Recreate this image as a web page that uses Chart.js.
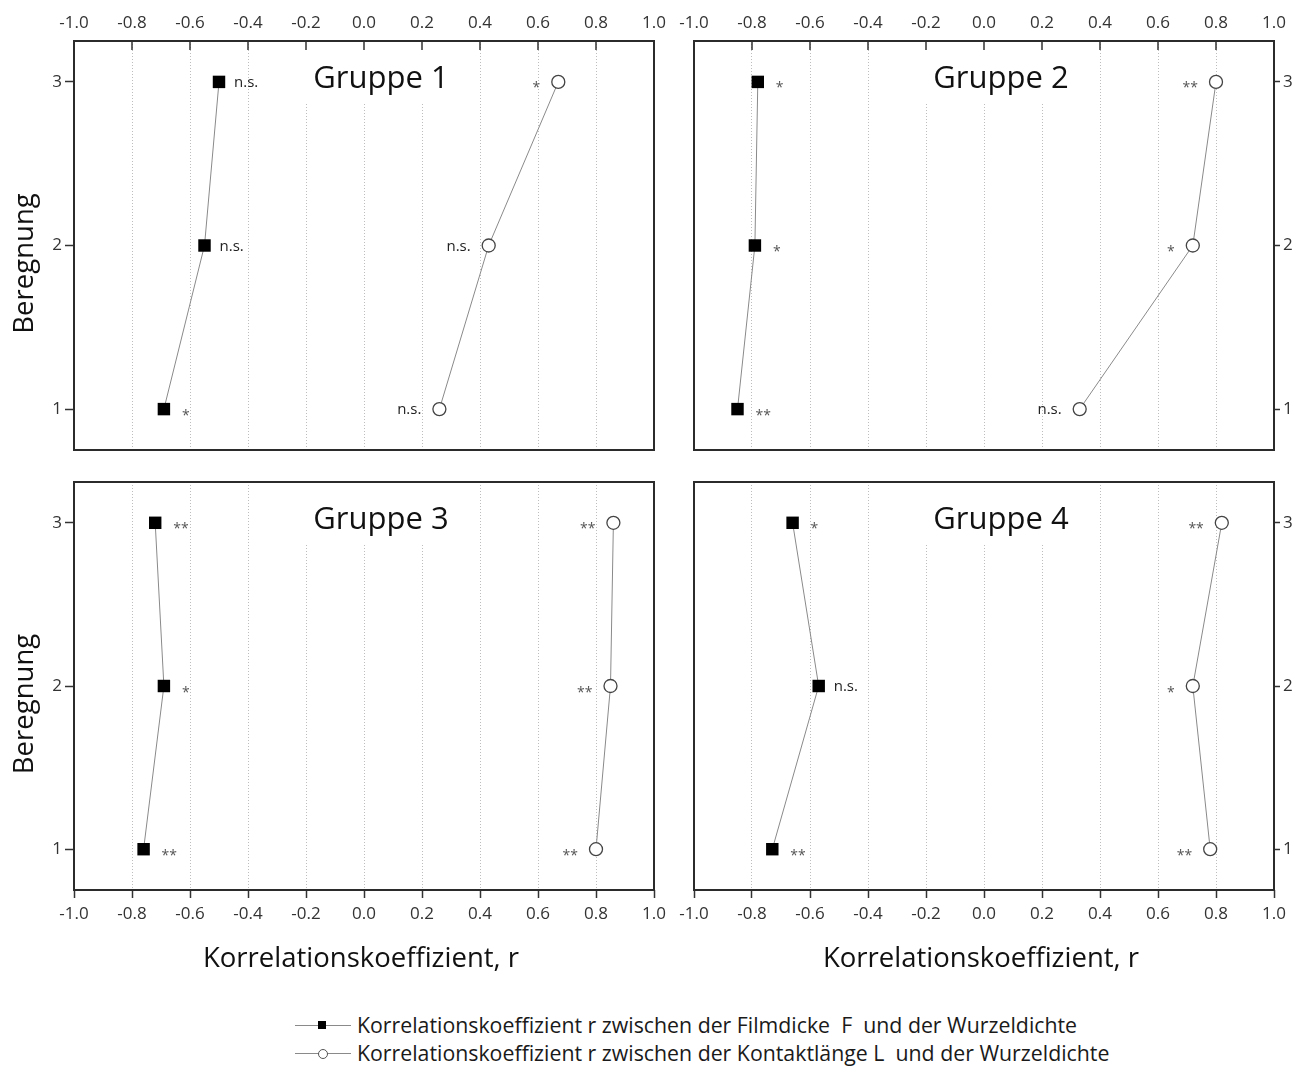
<!DOCTYPE html>
<html>
<head>
<meta charset="utf-8">
<script src="https://cdn.jsdelivr.net/npm/chart.js@4.4.1/dist/chart.umd.min.js"></script>
<style>
  html, body { margin: 0; padding: 0; background: #fff; }
  body { width: 1306px; height: 1068px; position: relative; overflow: hidden; font-family: "Open Sans", "DejaVu Sans", sans-serif; }
  .panel { position: absolute; }
  .panel canvas { display: block; }
  #legende { position: absolute; left: 295px; top: 1011px; font-size: 21.3px; color: #1a1a1a; }
  .zeile { position: relative; height: 28px; line-height: 28px; padding-left: 62px; white-space: pre; }
  .zeile .linie { position: absolute; left: 0; top: 14px; width: 56px; border-top: 1px solid #8a8a8a; }
  .zeile .quadrat { position: absolute; left: 23px; top: 10px; width: 8px; height: 8px; background: #000; }
  .zeile .kreis { position: absolute; left: 23px; top: 10px; width: 8px; height: 8px; border: 1px solid #555; background: #fff; border-radius: 50%; }
</style>
</head>
<body>
<div class="panel" style="left:0px;top:0px;"><canvas id="c1" width="680" height="464"></canvas></div>
<div class="panel" style="left:668px;top:0px;"><canvas id="c2" width="638" height="464"></canvas></div>
<div class="panel" style="left:0px;top:468px;"><canvas id="c3" width="680" height="512"></canvas></div>
<div class="panel" style="left:668px;top:468px;"><canvas id="c4" width="638" height="512"></canvas></div>
<div id="legende"></div>

<script>
// Beregnungsstufen (y) und Achsenteilung (x)
const beregnung = [1, 2, 3];
const xTickValues = [-1.0, -0.8, -0.6, -0.4, -0.2, 0.0, 0.2, 0.4, 0.6, 0.8, 1.0];
const yTickValues = [1, 2, 3];
const gruppenNamen = ['Gruppe 1', 'Gruppe 2', 'Gruppe 3', 'Gruppe 4'];

// r zwischen Filmdicke F und Wurzeldichte, Beregnung 1..3
const rFilm1 = [-0.69, -0.55, -0.50];
const rFilm2 = [-0.85, -0.79, -0.78];
const rFilm3 = [-0.76, -0.69, -0.72];
const rFilm4 = [-0.73, -0.57, -0.66];

// r zwischen Kontaktlänge L und Wurzeldichte, Beregnung 1..3
const rKontakt1 = [0.26, 0.43, 0.67];
const rKontakt2 = [0.33, 0.72, 0.80];
const rKontakt3 = [0.80, 0.85, 0.86];
const rKontakt4 = [0.78, 0.72, 0.82];

// Signifikanzen
const sigFilm1 = ['*', 'n.s.', 'n.s.'];
const sigFilm2 = ['**', '*', '*'];
const sigFilm3 = ['**', '*', '**'];
const sigFilm4 = ['**', 'n.s.', '*'];
const sigKontakt1 = ['n.s.', 'n.s.', '*'];
const sigKontakt2 = ['n.s.', '*', '**'];
const sigKontakt3 = ['**', '**', '**'];
const sigKontakt4 = ['**', '*', '**'];

const achsentitelX = 'Korrelationskoeffizient, r';
const achsentitelY = 'Beregnung';
const legendeFilm = 'Korrelationskoeffizient r zwischen der Filmdicke  F  und der Wurzeldichte';
const legendeKontakt = 'Korrelationskoeffizient r zwischen der Kontaktlänge L  und der Wurzeldichte';

const FONT = '"Open Sans", "DejaVu Sans", sans-serif';

function punkte(werte) {
  return werte.map((r, i) => ({ x: r, y: beregnung[i] }));
}

// Text so setzen, dass die Glyphen mittig auf y liegen
function zentrierterText(ctx, text, x, y, align, dy) {
  const m = ctx.measureText(text);
  ctx.textAlign = align;
  ctx.textBaseline = 'alphabetic';
  ctx.fillText(text, x, y + (m.actualBoundingBoxAscent - m.actualBoundingBoxDescent) / 2 + (dy || 0));
}

function sigLabel(ctx, text, px, py, rechts) {
  const stern = text.indexOf('*') >= 0;
  ctx.font = (stern ? '14px ' : '15px ') + FONT;
  ctx.fillStyle = stern ? '#555' : '#222';
  if (rechts) {
    zentrierterText(ctx, text, px + (stern ? 18 : 15), py, 'left', stern ? 3 : 1);
  } else {
    zentrierterText(ctx, text, px - 18, py, 'right', stern ? 3 : 1);
  }
}

const panelDeko = {
  id: 'panelDeko',
  beforeDatasetsDraw(chart, args, o) {
    const { ctx, chartArea: a, scales: { x, y } } = chart;
    ctx.save();
    // Gruppentitel mit weißem Hintergrund über dem Raster
    ctx.font = '31px ' + FONT;
    const w = ctx.measureText(o.titel).width;
    const cx = (a.left + a.right) / 2 + 17;
    const y3 = y.getPixelForValue(3);
    ctx.fillStyle = '#fff';
    ctx.fillRect(cx - w / 2 - 12, a.top + 1, w + 24, y3 - a.top + 21);
    ctx.fillStyle = '#111';
    zentrierterText(ctx, o.titel, cx, y3, 'center', -1);
    // nach innen zeigende Striche an der oberen Achse
    if (o.xPos === 'top') {
      ctx.strokeStyle = '#333';
      ctx.lineWidth = 1.5;
      ctx.beginPath();
      xTickValues.forEach(v => {
        const px = x.getPixelForValue(v);
        ctx.moveTo(px, a.top);
        ctx.lineTo(px, a.top + 9);
      });
      ctx.stroke();
    }
    ctx.restore();
  },
  afterDatasetsDraw(chart, args, o) {
    const { ctx, chartArea: a } = chart;
    ctx.save();
    const film = chart.getDatasetMeta(0).data;
    const kontakt = chart.getDatasetMeta(1).data;
    film.forEach((p, i) => sigLabel(ctx, o.sigFilm[i], p.x, p.y, true));
    kontakt.forEach((p, i) => sigLabel(ctx, o.sigKontakt[i], p.x, p.y, false));
    // Rahmen
    ctx.strokeStyle = '#2b2b2b';
    ctx.lineWidth = 2;
    ctx.strokeRect(a.left, a.top, a.right - a.left, a.bottom - a.top);
    ctx.restore();
  },
  afterDraw(chart, args, o) {
    const { ctx, chartArea: a } = chart;
    ctx.save();
    ctx.fillStyle = '#111';
    ctx.font = '27.5px ' + FONT;
    if (o.yPos === 'left') {
      ctx.translate(33, (a.top + a.bottom) / 2 + 18);
      ctx.rotate(-Math.PI / 2);
      ctx.textAlign = 'center';
      ctx.textBaseline = 'alphabetic';
      ctx.fillText(achsentitelY, 0, 0);
      ctx.setTransform(1, 0, 0, 1, 0, 0);
    }
    if (o.xPos === 'bottom') {
      ctx.textAlign = 'center';
      ctx.textBaseline = 'alphabetic';
      ctx.fillText(achsentitelX, (a.left + a.right) / 2 - 3, a.bottom + 77);
    }
    ctx.restore();
  }
};

const panels = [
  { canvas: 'c1', titel: gruppenNamen[0], film: rFilm1, kontakt: rKontakt1, sigFilm: sigFilm1, sigKontakt: sigKontakt1,
    xPos: 'top', yPos: 'left', padding: { top: 0, left: 0, right: 26, bottom: 14 }, xHoehe: 41, yBreite: 74 },
  { canvas: 'c2', titel: gruppenNamen[1], film: rFilm2, kontakt: rKontakt2, sigFilm: sigFilm2, sigKontakt: sigKontakt2,
    xPos: 'top', yPos: 'right', padding: { top: 0, left: 26, right: 0, bottom: 14 }, xHoehe: 41, yBreite: 32 },
  { canvas: 'c3', titel: gruppenNamen[2], film: rFilm3, kontakt: rKontakt3, sigFilm: sigFilm3, sigKontakt: sigKontakt3,
    xPos: 'bottom', yPos: 'left', padding: { top: 14, left: 0, right: 26, bottom: 0 }, xHoehe: 90, yBreite: 74 },
  { canvas: 'c4', titel: gruppenNamen[3], film: rFilm4, kontakt: rKontakt4, sigFilm: sigFilm4, sigKontakt: sigKontakt4,
    xPos: 'bottom', yPos: 'right', padding: { top: 14, left: 26, right: 0, bottom: 0 }, xHoehe: 90, yBreite: 32 }
];

panels.forEach(p => {
  new Chart(document.getElementById(p.canvas), {
    type: 'scatter',
    data: {
      datasets: [
        {
          label: legendeFilm,
          data: punkte(p.film),
          showLine: true,
          borderColor: '#8a8a8a',
          borderWidth: 1,
          pointStyle: 'rect',
          pointRadius: 8.8,
          pointBackgroundColor: '#000',
          pointBorderColor: '#000',
          pointBorderWidth: 0
        },
        {
          label: legendeKontakt,
          data: punkte(p.kontakt),
          showLine: true,
          borderColor: '#8a8a8a',
          borderWidth: 1,
          pointStyle: 'circle',
          pointRadius: 6.5,
          pointBackgroundColor: '#fff',
          pointBorderColor: '#444',
          pointBorderWidth: 1.3
        }
      ]
    },
    options: {
      responsive: false,
      animation: false,
      events: [],
      layout: { padding: p.padding },
      plugins: {
        legend: { display: false },
        tooltip: { enabled: false },
        panelDeko: { titel: p.titel, xPos: p.xPos, yPos: p.yPos, sigFilm: p.sigFilm, sigKontakt: p.sigKontakt }
      },
      scales: {
        x: {
          type: 'linear',
          position: p.xPos,
          min: -1,
          max: 1,
          afterBuildTicks: s => { s.ticks = xTickValues.map(v => ({ value: v })); },
          afterFit: s => { s.height = p.xHoehe; },
          ticks: {
            callback: v => v.toFixed(1),
            font: { family: FONT, size: 17 },
            color: '#333',
            padding: p.xPos === 'top' ? 8 : 6,
            maxRotation: 0,
            autoSkip: false
          },
          grid: {
            color: c => (c.tick && Math.abs(c.tick.value) < 0.999) ? '#bdbdbd' : 'rgba(0,0,0,0)',
            lineWidth: 1,
            drawTicks: p.xPos === 'bottom',
            tickLength: 8,
            tickColor: '#333',
            tickWidth: 1.5
          },
          border: { display: false, dash: [1, 2] }
        },
        y: {
          type: 'linear',
          position: p.yPos,
          min: 0.75,
          max: 3.25,
          afterBuildTicks: s => { s.ticks = yTickValues.map(v => ({ value: v })); },
          afterFit: s => { s.width = p.yBreite; },
          ticks: {
            callback: v => String(v),
            font: { family: FONT, size: 17 },
            color: '#333',
            padding: 3
          },
          grid: {
            drawOnChartArea: false,
            drawTicks: true,
            tickLength: p.yPos === 'left' ? 9 : 6,
            tickColor: '#333',
            tickWidth: 1.5,
            color: '#333'
          },
          border: { display: false }
        }
      }
    },
    plugins: [panelDeko]
  });
});

// Legende unter den Diagrammen
const legende = document.getElementById('legende');
[[legendeFilm, 'quadrat'], [legendeKontakt, 'kreis']].forEach(([text, form]) => {
  const z = document.createElement('div');
  z.className = 'zeile';
  z.innerHTML = '<span class="linie"></span><span class="' + form + '"></span>';
  z.appendChild(document.createTextNode(text));
  legende.appendChild(z);
});
</script>
</body>
</html>
